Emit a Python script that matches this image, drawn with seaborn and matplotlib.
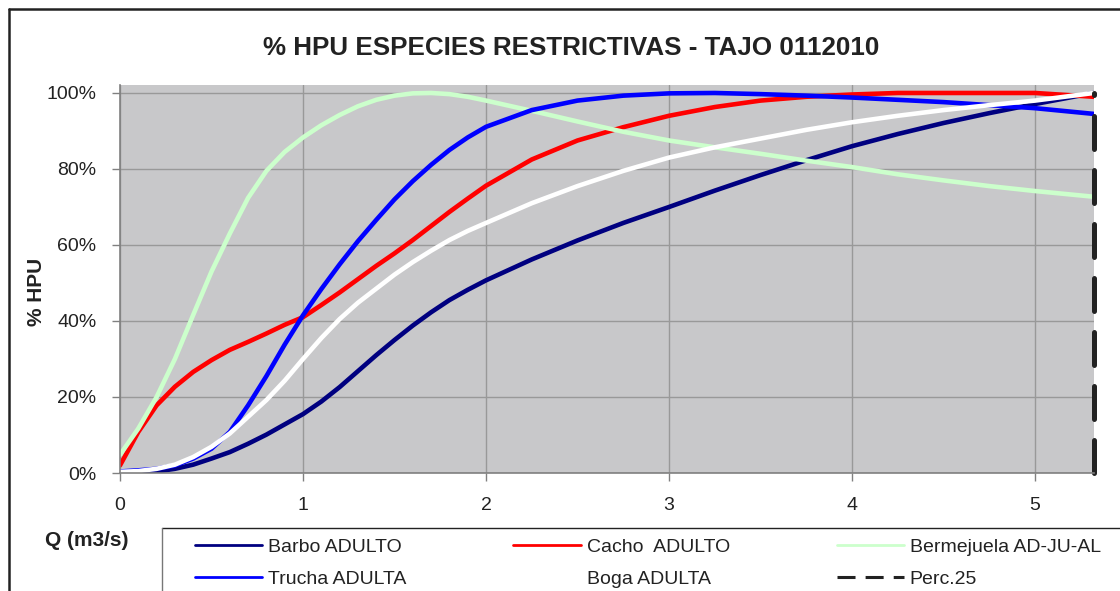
import pandas as pd
import matplotlib.pyplot as plt
import seaborn as sns
from matplotlib.lines import Line2D
from matplotlib.ticker import PercentFormatter

# caudal (m3/s) y % HPU
q = [0, 0.1, 0.2, 0.3, 0.4, 0.5, 0.6, 0.7, 0.8, 0.9,
     1.0, 1.1, 1.2, 1.3, 1.4, 1.5, 1.6, 1.7, 1.8, 1.9,
     2.0, 2.25, 2.5, 2.75, 3.0, 3.25, 3.5, 3.75, 4.0, 4.25, 4.5, 4.75, 5.0, 5.32]
barbo = [0, 0.1, 0.4, 1.1, 2.2, 3.8, 5.5, 7.7, 10.1, 12.8,
         15.5, 18.8, 22.6, 26.8, 31, 35, 38.8, 42.3, 45.5, 48.2,
         50.7, 56.2, 61.2, 65.8, 70, 74.3, 78.4, 82.3, 86, 89.2, 92.1, 94.7, 97.1, 100]
cacho = [2, 10.8, 17.8, 22.7, 26.6, 29.7, 32.4, 34.5, 36.7, 39,
         41, 44.2, 47.5, 51, 54.5, 57.8, 61.3, 65, 68.7, 72.2,
         75.6, 82.5, 87.5, 91, 94, 96.3, 98, 99, 99.6, 100, 100, 100, 100, 99]
bermejuela = [4.8, 11.7, 20, 30, 41.6, 53, 63, 72.4, 79.5, 84.5,
              88.3, 91.5, 94.2, 96.5, 98.2, 99.3, 99.9, 100, 99.7, 99,
              98, 95.3, 92.5, 89.8, 87.5, 85.7, 84, 82.2, 80.5, 78.6, 77, 75.5, 74.2, 72.7]
trucha = [0.4, 0.7, 1.1, 2, 3.8, 6.4, 10.8, 17.8, 25.5, 33.8,
          41.5, 48.4, 54.9, 61, 66.6, 72, 76.8, 81.1, 85, 88.3,
          91.1, 95.5, 98, 99.3, 99.9, 100, 99.7, 99.3, 98.8, 98.2, 97.6, 96.8, 96, 94.5]
boga = [0.3, 0.5, 1.1, 2.2, 4.2, 6.9, 10.4, 14.8, 19.2, 24.3,
        30, 35.5, 40.5, 44.8, 48.5, 52.2, 55.5, 58.5, 61.3, 63.7,
        65.8, 71, 75.5, 79.5, 83, 85.7, 88, 90.3, 92.3, 94, 95.5, 96.8, 98, 100]
perc25_q = [5.32, 5.32]
perc25_y = [0, 100]

series = ["Barbo ADULTO", "Cacho  ADULTO", "Bermejuela AD-JU-AL",
          "Trucha ADULTA", "Boga ADULTA"]
colors = ["#000080", "#FF0000", "#CCFFCC", "#0000FF", "#FFFFFF"]

df = pd.concat([
    pd.DataFrame({"Q": q, "HPU": v, "Especie": n})
    for n, v in zip(series, [barbo, cacho, bermejuela, trucha, boga])
])

sns.set_style("whitegrid", {"axes.facecolor": "#C8C8CA", "grid.color": "#999999"})
plt.rcParams["font.family"] = ["Liberation Sans", "DejaVu Sans"]

fig = plt.figure(figsize=(11.2, 5.91), dpi=100)
ax = fig.add_axes([120 / 1120, 1 - 473 / 591, 974 / 1120, 388 / 591])

sns.lineplot(data=df, x="Q", y="HPU", hue="Especie", hue_order=series,
             palette=dict(zip(series, colors)), linewidth=3.3, legend=False,
             ax=ax)
sns.lineplot(x=perc25_q, y=perc25_y, estimator=None, sort=False, color="#222222",
             linewidth=3.6, dashes=(6.6, 4.2), ax=ax)
perc_line = ax.lines[-1]
perc_line.set_clip_on(False)
perc_line.set_dash_capstyle("round")

ax.set_xlim(0, 5.322)
ax.set_ylim(0, 102.1)
ax.set_xticks([0, 1, 2, 3, 4, 5])
ax.set_yticks([0, 20, 40, 60, 80, 100])
ax.yaxis.set_major_formatter(PercentFormatter(100, decimals=0))
ax.grid(True, color="#999999", linewidth=1.0)
ax.set_xlabel("")
ax.set_ylabel("")
for s in ["top", "right"]:
    ax.spines[s].set_visible(False)
for s in ["left", "bottom"]:
    ax.spines[s].set_color("#808080")
    ax.spines[s].set_linewidth(1.2)
ax.tick_params(axis="both", direction="out", length=6, width=1.0,
               color="#808080", labelsize=14, labelcolor="#222222")
ax.tick_params(axis="y", pad=11)
ax.tick_params(axis="x", pad=11)
ax.tick_params(left=True, bottom=True)

fig.text(571 / 1120, 1 - 48 / 591, "% HPU ESPECIES RESTRICTIVAS - TAJO 0112010",
         ha="center", va="center", fontsize=18.7, fontweight="bold", color="#222222")
fig.text(36 / 1120, 1 - 292 / 591, "% HPU", rotation=90, ha="center", va="center",
         fontsize=15, fontweight="bold", color="#222222")
fig.text(45 / 1120, 1 - 541 / 591, "Q (m3/s)", ha="left", va="center",
         fontsize=15, fontweight="bold", color="#222222")

# marco exterior y caja de la leyenda (recortados por el borde)
fig.add_artist(Line2D([9 / 1120, 1.0], [1 - 9 / 591, 1 - 9 / 591],
                      transform=fig.transFigure, color="#222222", linewidth=1.8))
fig.add_artist(Line2D([9 / 1120, 9 / 1120], [0, 1 - 9 / 591],
                      transform=fig.transFigure, color="#222222", linewidth=1.8))
fig.add_artist(Line2D([162 / 1120, 1.0], [1 - 528 / 591, 1 - 528 / 591],
                      transform=fig.transFigure, color="#222222", linewidth=1.0))
fig.add_artist(Line2D([162 / 1120, 162 / 1120], [0, 1 - 528 / 591],
                      transform=fig.transFigure, color="#777777", linewidth=1.0))

handles = [Line2D([], [], color=c, linewidth=2.0) for c in colors]
handles.append(Line2D([], [], color="#222222", linewidth=2.2, dashes=(5.9, 3.3)))
labels = series + ["Perc.25"]
order = [0, 3, 1, 4, 2, 5]
fig.legend([handles[i] for i in order], [labels[i] for i in order],
           loc="upper left", bbox_to_anchor=(195 / 1120, 1 - 538 / 591),
           ncol=3, frameon=False, fontsize=14, borderpad=0, borderaxespad=0,
           handlelength=3.45, handletextpad=0.31, columnspacing=5.5,
           labelspacing=0.74, labelcolor="#222222")

fig.savefig("out.png", dpi=100)
